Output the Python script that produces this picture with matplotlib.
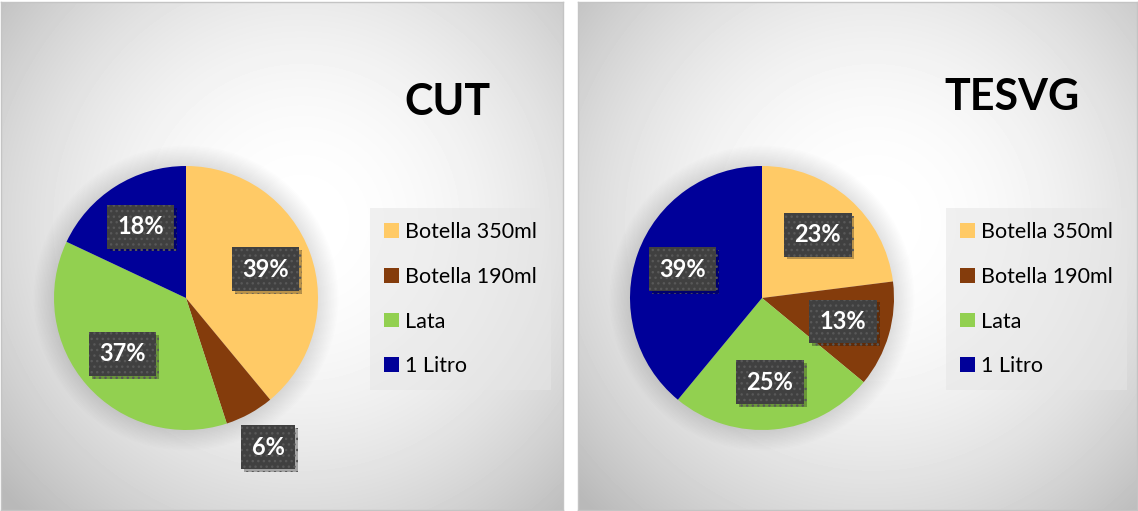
import numpy as np
import matplotlib
matplotlib.use('Agg')
import matplotlib.pyplot as plt
from matplotlib import patheffects as pe
from matplotlib.patches import Circle

categories = ['Botella 350ml', 'Botella 190ml', 'Lata', '1 Litro']
colors = ['#FFCA66', '#843C0C', '#92D050', '#000099']
cut_values = [39, 6, 37, 18]
tesvg_values = [23, 13, 25, 39]

plt.rcParams['font.family'] = ['Lato', 'DejaVu Sans']

W, H = 1138, 511
fig = plt.figure(figsize=(W / 100, H / 100), dpi=100)


def panel(x0, x1, y0, y1, gx, gy):
    # gray radial gradient card behind each chart
    ax = fig.add_axes([x0 / W, 1 - y1 / H, (x1 - x0) / W, (y1 - y0) / H])
    w, h = int(x1 - x0), int(y1 - y0)
    xx, yy = np.meshgrid(np.arange(w), np.arange(h))
    r = np.hypot(xx - gx, yy - gy) / 380
    v = np.clip(255 - 63 * r ** 2, 185, 255) / 255
    ax.imshow(v, cmap='gray', vmin=0, vmax=1, extent=(0, w, h, 0),
              aspect='auto', interpolation='bilinear')
    ax.set_xlim(0, w)
    ax.set_ylim(h, 0)
    ax.set_xticks([])
    ax.set_yticks([])
    for s in ax.spines.values():
        s.set_color('#c4c4c4')
        s.set_linewidth(1)
    return ax


def draw_pie(values, title, cx, cy, title_xy, legend_xy):
    R = 132
    L = 1.5
    ax = fig.add_axes([(cx - R * L) / W, (H - cy - R * L) / H, 2 * R * L / W, 2 * R * L / H])
    # soft halo around the pie
    for i in range(14):
        ax.add_patch(Circle((0, 0), 1 + 0.011 * (i + 1), fc='#808080', ec='none',
                            alpha=0.016, zorder=0, clip_on=False))
    wedges, _, autotexts = ax.pie(values, colors=colors, startangle=90, counterclock=False,
                                  autopct='%1.0f%%', pctdistance=0.64,
                                  wedgeprops=dict(linewidth=0),
                                  textprops=dict(color='white', fontsize=17, fontweight='bold'))
    for w, t, v in zip(wedges, autotexts, values):
        if v < 10:
            ang = np.deg2rad((w.theta1 + w.theta2) / 2)
            t.set_position((1.29 * np.cos(ang), 1.29 * np.sin(ang)))
        t.set_bbox(dict(boxstyle='square,pad=0.44', fc='#404040', ec='#585858',
                        lw=0, hatch='...'))
        t.get_bbox_patch().set_path_effects([
            pe.SimplePatchShadow(offset=(2, -2), shadow_rgbFace='#000000', alpha=0.28),
            pe.Normal()])
    ax.set_xlim(-L, L)
    ax.set_ylim(-L, L)
    ax.axis('off')

    leg = ax.legend(wedges, categories, loc='upper left',
                    bbox_to_anchor=(legend_xy[0] / W, 1 - legend_xy[1] / H),
                    bbox_transform=fig.transFigure, frameon=True, fontsize=15.5,
                    handlelength=0.68, handleheight=0.68, handletextpad=0.3,
                    labelspacing=1.15, borderpad=0.65, borderaxespad=0)
    fr = leg.get_frame()
    fr.set_facecolor('#e6e6e6')
    fr.set_alpha(0.55)
    fr.set_edgecolor('none')
    fr.set_boxstyle('square,pad=0')

    fig.text(title_xy[0] / W, 1 - title_xy[1] / H, title, ha='center', va='center',
             fontsize=31, fontweight='bold', color='black')


panel(1, 563, 2, 510, 300, 220)
panel(578, 1137, 2, 510, 295, 220)

draw_pie(cut_values, 'CUT', 186, 298, (447, 102), (370, 208))
draw_pie(tesvg_values, 'TESVG', 762, 298, (1012, 97), (946, 208))

fig.savefig('out.png', dpi=100)
